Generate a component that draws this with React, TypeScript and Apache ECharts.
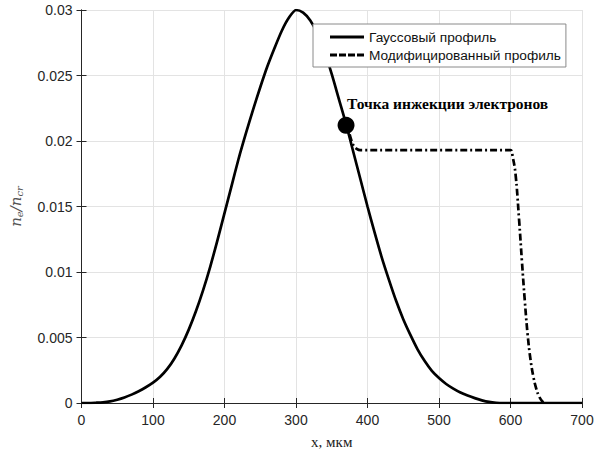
import React, { useEffect, useRef } from "react";
import * as echarts from "echarts";

const gaussX = [0,10,20,30,40,50,60,70,80,90,100,110,120,130,140,150,160,170,180,190,200,210,220,230,240,250,260,270,280,290,300,310,320,330,340,350,360,370,380,390,400,410,420,430,440,450,460,470,480,490,500,510,520,530,540,550,560,570,580,590,600,650,700];
const gaussY = [0,0,0.00002,0.00005,0.00012,0.00025,0.00042,0.00064,0.0009,0.0012,0.00155,0.002,0.0026,0.0034,0.0044,0.0056,0.007,0.0086,0.0104,0.0124,0.0145,0.0166,0.0187,0.0206,0.0224,0.0241,0.0257,0.0271,0.0284,0.0294,0.03,0.0298,0.0292,0.0282,0.0268,0.0251,0.0232,0.0213,0.0192,0.0171,0.015,0.013,0.0111,0.0094,0.0078,0.0064,0.0052,0.0041,0.0032,0.00245,0.0019,0.00145,0.0011,0.0008,0.00057,0.00037,0.0002,0.00008,0.00002,0,0,0,0];

const modX = [375,380,385,390,600,603,607,612,616,620,624,628,632,636,640,645,650];
const modY = [0.0205,0.0197,0.0194,0.0193,0.0193,0.0188,0.0175,0.014,0.0108,0.0078,0.0052,0.0033,0.002,0.0011,0.0005,0.0001,0];

const injection = [370, 0.0212];
const seriesNames = ["Гауссовый профиль", "Модифицированный профиль"];
const annotationText = "Точка инжекции электронов";

export default function App() {
  const ref = useRef<HTMLDivElement>(null);
  useEffect(() => {
    const chart = echarts.init(ref.current!, null, { renderer: "svg" });
    const axisColor = "#262626";
    const labelStyle = { color: axisColor, fontSize: 14, fontFamily: "Liberation Sans, Arial, sans-serif" };
    chart.setOption({
      animation: false,
      backgroundColor: "#fff",
      grid: { left: 81, right: 26, top: 10, bottom: 49, containLabel: false },
      legend: {
        left: 313,
        top: 24,
        orient: "vertical",
        backgroundColor: "#fff",
        borderColor: "#8a8a8a",
        borderWidth: 1,
        borderRadius: 0,
        padding: [5, 5, 4, 17],
        itemGap: 2,
        itemWidth: 34,
        itemHeight: 3,
        textStyle: { fontSize: 13.7, lineHeight: 16, color: "#111", fontFamily: "Liberation Sans, Arial, sans-serif" },
        data: [
          { name: seriesNames[0], icon: "rect", itemStyle: { color: "#000" } },
          { name: seriesNames[1], icon: "path://M0,0h7v3h-7zM9,0h7v3h-7zM18,0h7v3h-7zM27,0h7v3h-7z", itemStyle: { color: "#000" } },
        ],
      },
      xAxis: [
        {
          type: "value", min: 0, max: 700, interval: 100,
          name: "x, мкм", nameLocation: "middle", nameGap: 31,
          nameTextStyle: { fontFamily: "Liberation Serif, Times New Roman, serif", fontSize: 15, color: "#222" },
          axisLine: { lineStyle: { color: axisColor, width: 1 } },
          axisTick: { inside: true, length: 5, lineStyle: { color: axisColor } },
          axisLabel: { ...labelStyle, margin: 10 },
          splitLine: { show: true, lineStyle: { color: "#e3e3e3", width: 1 } },
        },
        {
          type: "value", min: 0, max: 700, interval: 100, position: "top",
          axisLine: { show: true, lineStyle: { color: axisColor, width: 1 } },
          axisTick: { show: true, inside: true, length: 5, lineStyle: { color: axisColor } },
          axisLabel: { show: false },
          splitLine: { show: false },
        },
      ],
      yAxis: [
        {
          type: "value", min: 0, max: 0.03, interval: 0.005,
          name: "{i|n}{s|e}{i|/n}{s|cr}", nameLocation: "middle", nameGap: 57, nameRotate: 90,
          nameTextStyle: {
            color: "#555",
            rich: {
              i: { fontFamily: "DejaVu Serif, serif", fontStyle: "italic", fontSize: 15, color: "#555" },
              s: { fontFamily: "DejaVu Serif, serif", fontStyle: "italic", fontSize: 10, color: "#555", verticalAlign: "bottom", padding: [8, 0, 0, 0] },
            },
          },
          axisLine: { show: true, lineStyle: { color: axisColor, width: 1 } },
          axisTick: { show: true, inside: true, length: 5, lineStyle: { color: axisColor } },
          axisLabel: { ...labelStyle, margin: 9, formatter: (v: number) => String(+v.toFixed(3)) },
          splitLine: { show: true, lineStyle: { color: "#e3e3e3", width: 1 } },
        },
        {
          type: "value", min: 0, max: 0.03, interval: 0.005, position: "right",
          axisLine: { show: true, lineStyle: { color: axisColor, width: 1 } },
          axisTick: { show: true, inside: true, length: 5, lineStyle: { color: axisColor } },
          axisLabel: { show: false },
          splitLine: { show: false },
        },
      ],
      series: [
        {
          name: seriesNames[0],
          type: "line",
          symbol: "none",
          smooth: 0.25,
          data: gaussX.map((x, i) => [x, gaussY[i]]),
          lineStyle: { color: "#000", width: 2.7 },
          itemStyle: { color: "#000" },
          z: 3,
        },
        {
          name: seriesNames[1],
          type: "line",
          symbol: "none",
          smooth: 0.4,
          data: modX.map((x, i) => [x, modY[i]]),
          lineStyle: { color: "#000", width: 2.7, type: [7, 3, 2, 3] },
          itemStyle: { color: "#000" },
          z: 3,
        },
        {
          name: "point",
          type: "scatter",
          symbol: "circle",
          symbolSize: 17,
          data: [injection],
          itemStyle: { color: "#000", opacity: 1 },
          label: {
            show: true,
            position: [9.5, -21],
            formatter: annotationText,
            fontFamily: "Liberation Serif, Times New Roman, serif",
            fontWeight: "bold",
            fontSize: 15.5,
            color: "#000",
          },
          z: 5,
        },
      ],
    });
    return () => chart.dispose();
  }, []);
  return <div ref={ref} style={{ width: 608, height: 454, position: "absolute", left: 0, top: 0 }} />;
}
